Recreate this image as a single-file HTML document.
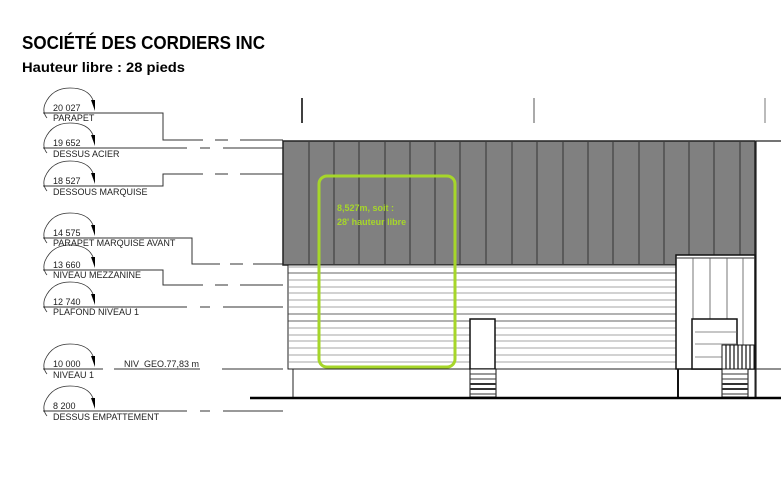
<!DOCTYPE html>
<html><head><meta charset="utf-8"><style>
html,body{margin:0;padding:0;background:#fff;width:781px;height:493px;overflow:hidden}
svg{display:block}
</style></head><body>
<svg width="781" height="493" viewBox="0 0 781 493" xmlns="http://www.w3.org/2000/svg" font-family="Liberation Sans, Arial, sans-serif">
<text x="22" y="49" font-size="18" font-weight="bold" fill="#000" textLength="243" lengthAdjust="spacingAndGlyphs">SOCIÉTÉ DES CORDIERS INC</text>
<text x="22" y="72" font-size="14" font-weight="bold" fill="#000" textLength="163" lengthAdjust="spacingAndGlyphs">Hauteur libre : 28 pieds</text>

<g stroke="#000" stroke-width="1">
<line x1="302" y1="98" x2="302" y2="123" stroke-width="1.5"/>
<line x1="534" y1="98" x2="534" y2="123" stroke="#555"/>
<line x1="765" y1="98" x2="765" y2="123" stroke="#777"/>
</g>

<g font-size="9" fill="#222">
<g stroke="#333" stroke-width="1" fill="none">
<path d="M43 113H163V140H203M215 140H228M240 140H283"/>
<path d="M43 148H187M200 148H210M223 148H283"/>
<path d="M43 186H163V174H203M215 174H228M240 174H283"/>
<path d="M43 238H192V264H220M230 264H243M253 264H283"/>
<path d="M43 270H163V285H203M215 285H228M240 285H283"/>
<path d="M43 307H187M200 307H210M223 307H283"/>
<path d="M43 369H103M114 369H200M222 369H283"/>
<path d="M43 411H187M200 411H210M223 411H283"/>
</g>
<g stroke="#333" stroke-width="0.8" fill="none">
<path d="M47 118 Q42 112 45 104 Q52 88 70 88 Q88 88 93 100"/>
<path d="M47 153 Q42 147 45 139 Q52 123 70 123 Q88 123 93 135"/>
<path d="M47 191 Q42 185 45 177 Q52 161 70 161 Q88 161 93 173"/>
<path d="M47 243 Q42 237 45 229 Q52 213 70 213 Q88 213 93 225"/>
<path d="M47 275 Q42 269 45 261 Q52 245 70 245 Q88 245 93 257"/>
<path d="M47 312 Q42 306 45 298 Q52 282 70 282 Q88 282 93 294"/>
<path d="M47 374 Q42 368 45 360 Q52 344 70 344 Q88 344 93 356"/>
<path d="M47 416 Q42 410 45 402 Q52 386 70 386 Q88 386 93 398"/>
</g>
<g fill="#000">
<path d="M91 100L95 100L95 111Z"/>
<path d="M91 135L95 135L95 146Z"/>
<path d="M91 173L95 173L95 184Z"/>
<path d="M91 225L95 225L95 236Z"/>
<path d="M91 257L95 257L95 268Z"/>
<path d="M91 294L95 294L95 305Z"/>
<path d="M91 356L95 356L95 367Z"/>
<path d="M91 398L95 398L95 409Z"/>
</g>
<text x="53" y="111">20 027</text><text x="53" y="121">PARAPET</text>
<text x="53" y="146">19 652</text><text x="53" y="157">DESSUS ACIER</text>
<text x="53" y="184">18 527</text><text x="53" y="195">DESSOUS MARQUISE</text>
<text x="53" y="236">14 575</text><text x="53" y="246">PARAPET MARQUISE AVANT</text>
<text x="53" y="268">13 660</text><text x="53" y="278">NIVEAU MEZZANINE</text>
<text x="53" y="305">12 740</text><text x="53" y="315">PLAFOND NIVEAU 1</text>
<text x="53" y="367">10 000</text><text x="53" y="378">NIVEAU 1</text>
<text x="124" y="367">NIV_GEO.77,83 m</text>
<text x="53" y="409">8 200</text><text x="53" y="420">DESSUS EMPATTEMENT</text>
</g>

<rect x="283" y="141" width="472" height="124" fill="#808080" stroke="#222" stroke-width="1.5"/>
<g stroke="#222" stroke-width="0.8">
<line x1="309" y1="142" x2="309" y2="264"/><line x1="334" y1="142" x2="334" y2="264"/>
<line x1="359" y1="142" x2="359" y2="264"/><line x1="385" y1="142" x2="385" y2="264"/>
<line x1="410" y1="142" x2="410" y2="264"/><line x1="435" y1="142" x2="435" y2="264"/>
<line x1="460" y1="142" x2="460" y2="264"/><line x1="486" y1="142" x2="486" y2="264"/>
<line x1="512" y1="142" x2="512" y2="264"/><line x1="537" y1="142" x2="537" y2="264"/>
<line x1="563" y1="142" x2="563" y2="264"/><line x1="588" y1="142" x2="588" y2="264"/>
<line x1="613" y1="142" x2="613" y2="264"/><line x1="639" y1="142" x2="639" y2="264"/>
<line x1="664" y1="142" x2="664" y2="264"/><line x1="689" y1="142" x2="689" y2="264"/>
<line x1="714" y1="142" x2="714" y2="264"/><line x1="740" y1="142" x2="740" y2="264"/>
</g>
<path d="M756 141H781M756 141V398" stroke="#222" stroke-width="1.2" fill="none"/>
<line x1="756" y1="369" x2="781" y2="369" stroke="#222"/>

<rect x="288" y="265" width="388" height="104" fill="#fff" stroke="#222" stroke-width="1"/>
<g stroke="#888" stroke-width="0.8">
<line x1="288" y1="267" x2="676" y2="267"/><line x1="288" y1="273" x2="676" y2="273" stroke="#333"/>
<line x1="288" y1="280" x2="676" y2="280"/><line x1="288" y1="287" x2="676" y2="287"/>
<line x1="288" y1="293" x2="676" y2="293"/><line x1="288" y1="300" x2="676" y2="300"/>
<line x1="288" y1="307" x2="676" y2="307"/><line x1="288" y1="314" x2="676" y2="314" stroke="#333"/>
<line x1="288" y1="321" x2="676" y2="321" stroke="#333"/><line x1="288" y1="328" x2="676" y2="328"/>
<line x1="288" y1="335" x2="676" y2="335"/><line x1="288" y1="341" x2="676" y2="341"/>
<line x1="288" y1="348" x2="676" y2="348"/><line x1="288" y1="355" x2="676" y2="355"/>
<line x1="288" y1="362" x2="676" y2="362"/>
</g>

<rect x="293" y="369" width="462" height="29" fill="#fff" stroke="#222" stroke-width="1"/>
<rect x="470" y="319" width="25" height="50" fill="#fff" stroke="#111" stroke-width="1.5"/>
<rect x="470" y="369" width="26" height="28" fill="#fff" stroke="#111" stroke-width="1"/>
<g stroke="#333" stroke-width="1"><line x1="470" y1="374" x2="496" y2="374"/><line x1="470" y1="379" x2="496" y2="379"/><line x1="470" y1="384" x2="496" y2="384" stroke-width="2"/><line x1="470" y1="389" x2="496" y2="389" stroke-width="2"/><line x1="470" y1="394" x2="496" y2="394"/></g>

<rect x="676" y="255" width="79" height="114" fill="#fff" stroke="#111" stroke-width="1.5"/>
<line x1="676" y1="258" x2="755" y2="258" stroke="#333"/>
<g stroke="#555" stroke-width="0.8"><line x1="693" y1="258" x2="693" y2="319"/><line x1="710" y1="258" x2="710" y2="319"/><line x1="727" y1="258" x2="727" y2="319"/><line x1="743" y1="258" x2="743" y2="345"/></g>
<rect x="692" y="319" width="45" height="50" fill="#fff" stroke="#111" stroke-width="1.5"/>
<g stroke="#666" stroke-width="0.8"><line x1="695" y1="332" x2="737" y2="332"/><line x1="695" y1="344" x2="737" y2="344"/><line x1="695" y1="357" x2="737" y2="357"/></g>
<rect x="722" y="345" width="32" height="24" fill="#fff" stroke="#111" stroke-width="1"/>
<g stroke="#111" stroke-width="1.2"><line x1="726" y1="345" x2="726" y2="369"/><line x1="730" y1="345" x2="730" y2="369"/><line x1="734" y1="345" x2="734" y2="369"/><line x1="738" y1="345" x2="738" y2="369"/><line x1="742" y1="345" x2="742" y2="369"/><line x1="746" y1="345" x2="746" y2="369"/><line x1="750" y1="345" x2="750" y2="369"/></g>
<rect x="722" y="369" width="26" height="28" fill="#fff" stroke="#111" stroke-width="1"/>
<g stroke="#333" stroke-width="1"><line x1="722" y1="374" x2="748" y2="374"/><line x1="722" y1="379" x2="748" y2="379"/><line x1="722" y1="384" x2="748" y2="384" stroke-width="2"/><line x1="722" y1="389" x2="748" y2="389" stroke-width="2"/><line x1="722" y1="394" x2="748" y2="394"/></g>
<line x1="678" y1="369" x2="678" y2="397" stroke="#111" stroke-width="2"/>

<line x1="250" y1="398" x2="781" y2="398" stroke="#000" stroke-width="2.5"/>

<rect x="319" y="176" width="136" height="191" rx="8" ry="8" fill="none" stroke="#a6d62a" stroke-width="3"/>
<text x="337" y="211" font-size="9" font-weight="bold" fill="#a6d62a">8,527m, soit :</text>
<text x="337" y="225" font-size="9" font-weight="bold" fill="#a6d62a">28' hauteur libre</text>
</svg>
</body></html>
